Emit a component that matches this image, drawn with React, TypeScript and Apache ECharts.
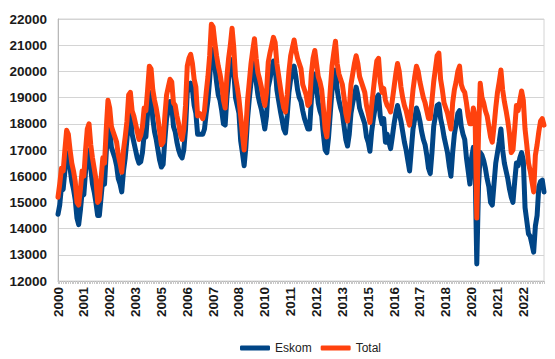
import React, { useEffect, useRef } from "react";
import * as echarts from "echarts";

const years = [2000, 2001, 2002, 2003, 2004, 2005, 2006, 2007, 2008, 2009, 2010, 2011, 2012, 2013, 2014, 2015, 2016, 2017, 2018, 2019, 2020, 2021, 2022, 2023];
const monthsInLastYear = 7;

const eskom = [
  14550, 14900, 15600, 15500, 16200, 16900, 16800, 16300, 15800, 15500, 15100, 14400,
  14150, 14700, 15400, 15300, 16200, 16800, 17000, 16300, 15700, 15400, 15000, 14500,
  14500, 15200, 15900, 15700, 16900, 18000, 17800, 17100, 16900, 16700, 16400, 15900,
  15700, 15400, 16200, 16700, 17400, 18300, 18500, 17600, 17300, 17000, 16700, 16500,
  16550, 16900, 17600, 17500, 18400, 19200, 19100, 18200, 17700, 17400, 17000, 16600,
  16350, 16450, 17400, 18200, 18500, 18850, 18700, 17900, 17700, 17300, 17000, 16800,
  16700, 17000, 17800, 19200, 19400, 19550, 19300, 18700, 18400, 17600, 17600, 17600,
  17600, 17800, 18400, 18900, 19700, 20850, 20800, 20200, 19600, 19100, 18900, 18500,
  18000, 17950, 19000, 19700, 20100, 20450, 20000, 19000, 18700, 18400, 17350, 16900,
  16400, 17100, 18200, 18950, 19600, 20000, 20350, 19600, 19100, 18800, 18550, 18200,
  17800, 18300, 19400, 19700, 20100, 20400, 20200, 19300, 18900, 18500, 18150, 17800,
  17650, 18300, 19200, 19700, 19900, 20200, 19800, 19300, 19000, 18850, 18500, 18200,
  18000, 17800, 17800, 18900, 19500, 19900, 19400, 18800, 18500, 18300, 17600, 17000,
  16900, 17500, 18400, 19300, 19700, 20050, 19300, 18900, 18600, 18400, 17900, 17400,
  17150, 17600, 18400, 18800, 19100, 19400, 19100, 18600, 18400, 18200, 18000, 17500,
  17300, 16950, 17700, 18200, 18600, 19000, 19100, 18300, 18000, 18200, 17300, 17600,
  17300, 17050, 17500, 18000, 18400, 18700, 18400, 18100, 17700, 17300, 17000, 16600,
  16200, 17000, 17800, 18200, 18600, 18400, 18100, 17700, 17400, 17200, 16800, 16300,
  16100, 16900, 17900, 18300, 18700, 18750, 18200, 17900, 17500, 17200, 16900, 16400,
  16000, 16900, 17600, 18000, 18400, 18500, 17900, 17600, 17400, 16700, 16200, 15700,
  16700, 17100, 16400, 12650, 15600, 16900, 16800, 16600, 16300, 15900, 15600, 15000,
  14900, 15700, 16500, 16900, 17300, 17800, 17000, 16500, 16200, 15900, 15500, 15200,
  15000, 15800, 16500, 16400, 16700, 16900, 16600, 14800, 14300, 13800, 13700, 13400,
  13100, 14100, 14500, 15600, 15800, 15850, 15400,
];

const total = [
  15200, 15700, 16300, 16200, 17000, 17750, 17600, 17000, 16500, 16200, 15800, 15000,
  14900, 15500, 16200, 16000, 17000, 17800, 18000, 17200, 16700, 16300, 15900, 15000,
  15100, 15900, 16700, 16500, 17800, 18900, 18600, 17900, 17700, 17500, 17300, 16800,
  16500, 16150, 17000, 17500, 18100, 19100, 19200, 18500, 18300, 18000, 17700, 17400,
  17550, 17900, 18600, 18500, 19300, 20200, 20100, 19300, 18900, 18600, 18200, 17700,
  17200, 17300, 18300, 19100, 19400, 19700, 19600, 18800, 18700, 18300, 18000, 17600,
  17400, 17800, 18700, 20200, 20500, 20650, 20300, 19700, 19400, 18300, 18400, 18300,
  18200, 18500, 19200, 19800, 20600, 21800, 21700, 21100, 20600, 20200, 19900, 19500,
  18900, 18600, 19800, 20500, 21000, 21650, 20900, 19800, 19400, 18950, 18300, 17600,
  17000, 17800, 18900, 19600, 20300, 20800, 21250, 20500, 19950, 19700, 19400, 19000,
  18700, 19200, 20350, 20700, 21000, 21300, 21100, 20300, 19850, 19400, 18950, 18600,
  18450, 19100, 20000, 20600, 20900, 21200, 20800, 20500, 20300, 20100, 19500, 19300,
  19100, 18700, 18800, 19900, 20500, 20800, 20300, 19800, 19600, 19300, 18600, 17800,
  17500, 18300, 19300, 20200, 20700, 21150, 20300, 19900, 19700, 19500, 19000, 18400,
  18100, 18600, 19500, 19900, 20300, 20600, 20300, 19800, 19600, 19400, 19200, 18700,
  18400, 18050, 18700, 19300, 19900, 20400, 20500, 19600, 19200, 19350, 18900, 18700,
  18600, 18450, 18900, 19400, 19900, 20300, 20000, 19400, 19000, 18700, 18500, 18200,
  17950, 18600, 19300, 19800, 20200, 20000, 19600, 19300, 19000, 18800, 18500, 18200,
  18200, 18900, 19600, 20100, 20600, 20700, 19700, 19300, 18800, 18600, 18400, 18100,
  17800, 18800, 19300, 19600, 20000, 20200, 19500, 19300, 19200, 18800, 18300, 18000,
  18000, 18600, 18300, 14400, 17600, 19550, 19000, 18800, 18500, 18300, 17900, 17500,
  17300, 17900, 18600, 19200, 19600, 20050, 19300, 18850, 18500, 18100, 17600, 16900,
  17000, 17800, 18700, 18500, 18900, 19250, 18900, 17800, 17200, 16500, 16200, 15800,
  15400, 16800, 17200, 17700, 18100, 18200, 17950,
];

const seriesNames = ["Eskom", "Total"];

const categories: string[] = [];
years.forEach((y, i) => {
  const n = i === years.length - 1 ? monthsInLastYear : 12;
  for (let m = 1; m <= n; m++) categories.push(`${y}-${m < 10 ? "0" + m : m}`);
});

export default function App() {
  const ref = useRef<HTMLDivElement>(null);
  useEffect(() => {
    if (!ref.current) return;
    const chart = echarts.init(ref.current, undefined, { renderer: "svg" });
    chart.setOption({
      animation: false,
      backgroundColor: "#ffffff",
      grid: {
        left: 58,
        right: 11,
        top: 19,
        bottom: 78,
        show: true,
        borderColor: "#d4d4d4",
        borderWidth: 1,
        containLabel: false,
        outerBoundsMode: "none",
      },
      legend: {
        data: seriesNames,
        left: 235,
        top: 337,
        icon: "roundRect",
        itemWidth: 30,
        itemHeight: 5,
        itemGap: 9,
        textStyle: { fontFamily: "Liberation Sans", fontSize: 12, color: "#222" },
      },
      xAxis: {
        type: "category",
        data: categories,
        boundaryGap: false,
        axisLine: { lineStyle: { color: "#b8b8b8" } },
        axisTick: { show: true, interval: 0, length: 3, lineStyle: { color: "#c8c8c8" } },
        axisLabel: {
          interval: 14,
          rotate: 90,
          margin: 6,
          fontFamily: "Liberation Sans",
          fontSize: 13.5,
          fontWeight: "bold",
          color: "#1a1a1a",
          formatter: (v: string) => v.slice(0, 4),
        },
        splitLine: { show: false },
      },
      yAxis: {
        type: "value",
        min: 12000,
        max: 22000,
        interval: 1000,
        axisLine: { show: true, lineStyle: { color: "#b8b8b8" } },
        axisTick: { show: false },
        axisLabel: {
          margin: 11,
          fontFamily: "Liberation Sans",
          fontSize: 13.5,
          fontWeight: "bold",
          color: "#1a1a1a",
          formatter: (v: number) => String(v),
        },
        splitLine: { lineStyle: { color: "#d4d4d4" } },
      },
      series: [
        {
          name: seriesNames[0],
          type: "line",
          data: eskom,
          symbol: "none",
          color: "#004586",
          lineStyle: { width: 5, color: "#004586", cap: "round", join: "round" },
        },
        {
          name: seriesNames[1],
          type: "line",
          data: total,
          symbol: "none",
          color: "#ff420e",
          lineStyle: { width: 5, color: "#ff420e", cap: "round", join: "round" },
        },
      ],
    });
    return () => chart.dispose();
  }, []);
  return (
    <div
      ref={ref}
      style={{ position: "absolute", left: 0, top: 0, width: 555, height: 359, background: "#fff" }}
    />
  );
}
